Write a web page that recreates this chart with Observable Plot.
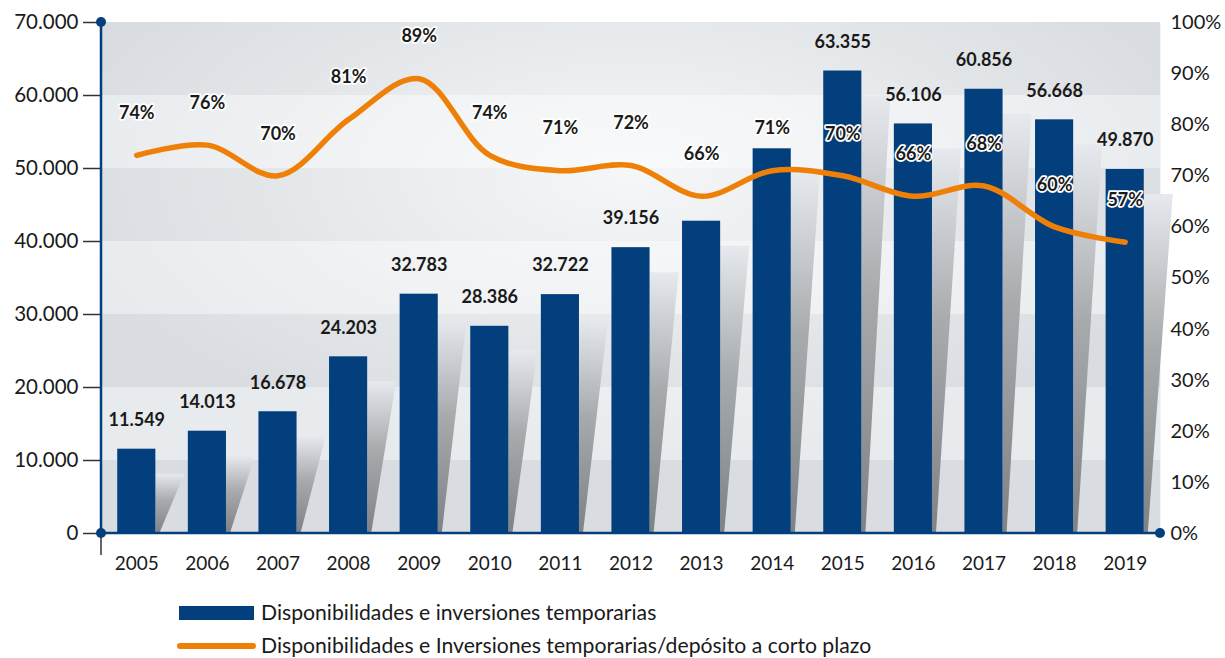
<!DOCTYPE html>
<html>
<head>
<meta charset="utf-8">
<script src="https://cdn.jsdelivr.net/npm/d3@7"></script>
<script src="https://cdn.jsdelivr.net/npm/@observablehq/plot@0.6"></script>
<style>
  html, body { margin: 0; padding: 0; background: #ffffff; }
  #wrap { position: relative; width: 1225px; height: 658px; font-family: Lato, "Noto Sans", sans-serif; color: #1a1a1a; overflow: hidden; }
  #chart { position: absolute; left: 0; top: 0; }
  .sw-bar { position: absolute; left: 179px; width: 75px; height: 14px; background: #023f7c; }
  .sw-line { position: absolute; left: 177px; width: 79px; height: 6px; border-radius: 3px; background: #ef8007; }
  .lg-text { position: absolute; left: 261px; font-size: 21.2px; line-height: 20px; white-space: nowrap; color: #1a1a1a; }
</style>
</head>
<body>
<div id="wrap">
  <div id="chart"></div>
  <div class="sw-bar" style="top:606px"></div>
  <div class="lg-text" id="lg1" style="top:602px"></div>
  <div class="sw-line" style="top:643px"></div>
  <div class="lg-text" id="lg2" style="top:635px"></div>
</div>
<script>
// ---- data ----
const years = [2005, 2006, 2007, 2008, 2009, 2010, 2011, 2012, 2013, 2014, 2015, 2016, 2017, 2018, 2019];
const amounts = [11549, 14013, 16678, 24203, 32783, 28386, 32722, 39156, 42780, 52700, 63355, 56106, 60856, 56668, 49870];
const amountShown = [true, true, true, true, true, true, true, true, false, false, true, true, true, true, true];
const ratios = [74, 76, 70, 81, 89, 74, 71, 72, 66, 71, 70, 66, 68, 60, 57];
const leftTicks = [0, 10000, 20000, 30000, 40000, 50000, 60000, 70000];
const rightTicksPct = [0, 10, 20, 30, 40, 50, 60, 70, 80, 90, 100];
const bandStarts = [0, 20000, 40000, 60000];
const seriesNames = ["Disponibilidades e inversiones temporarias", "Disponibilidades e Inversiones temporarias/depósito a corto plazo"];

// ---- setup ----
const NAVY = "#023f7c", ORANGE = "#ef8007", INK = "#1a1a1a";
const PCT = 700; // 100% on right axis == 70.000 on left axis
const fmt = d3.formatLocale({decimal: ",", thousands: ".", grouping: [3], currency: ["", ""]}).format(",d");
const rows = years.map((y, i) => ({year: String(y), amount: amounts[i], shown: amountShown[i], ratio: ratios[i], ry: ratios[i] * PCT}));

document.getElementById("lg1").textContent = seriesNames[0];
document.getElementById("lg2").textContent = seriesNames[1];

function glowMark(index, scales, values, dims) {
  const g = d3.create("svg:g");
  const defs = g.append("defs");
  const rg = defs.append("radialGradient").attr("id", "glow").attr("cx", "0.5").attr("cy", "0.3").attr("r", "0.55");
  rg.append("stop").attr("offset", "0").attr("stop-color", "#ffffff").attr("stop-opacity", 0.75);
  rg.append("stop").attr("offset", "0.6").attr("stop-color", "#ffffff").attr("stop-opacity", 0.3);
  rg.append("stop").attr("offset", "1").attr("stop-color", "#ffffff").attr("stop-opacity", 0);
  const lg = defs.append("linearGradient").attr("id", "shade").attr("x1", 0).attr("y1", 0).attr("x2", 0).attr("y2", 1);
  lg.append("stop").attr("offset", "0").attr("stop-color", "#e6eaee");
  lg.append("stop").attr("offset", "0.45").attr("stop-color", "#a7abae");
  lg.append("stop").attr("offset", "1").attr("stop-color", "#7e8285");
  const x0 = dims.marginLeft, x1 = dims.width - dims.marginRight;
  const y0 = dims.marginTop, y1 = dims.height - dims.marginBottom;
  g.append("rect").attr("x", x0).attr("y", y0).attr("width", x1 - x0).attr("height", y1 - y0).attr("fill", "url(#glow)");
  return g.node();
}

function shadowMark(index, scales, values, dims) {
  const g = d3.create("svg:g");
  const x = scales.x, y = scales.y;
  const bw = (x && typeof x.bandwidth === "function") ? x.bandwidth() : 38;
  const base = y(0);
  rows.forEach(d => {
    const right = x(d.year) + bw;
    const top = y(d.amount) + 25;
    const pts = [[right, top], [right + 29, top], [right + 4, base], [right, base]];
    g.append("path").attr("d", "M" + pts.map(p => p.join(",")).join("L") + "Z").attr("fill", "url(#shade)");
  });
  return g.node();
}

function decoMark(index, scales, values, dims) {
  const g = d3.create("svg:g");
  const x0 = dims.marginLeft, x1 = dims.width - dims.marginRight;
  const yb = scales.y(0), yt = scales.y(70000);
  g.append("line").attr("x1", x0).attr("x2", x0).attr("y1", yb).attr("y2", yb + 22).attr("stroke", "#333").attr("stroke-width", 1.5);
  g.append("line").attr("x1", x0).attr("x2", x0).attr("y1", yt).attr("y2", yb).attr("stroke", NAVY).attr("stroke-width", 2.5);
  g.append("line").attr("x1", x0).attr("x2", x1).attr("y1", yb).attr("y2", yb).attr("stroke", NAVY).attr("stroke-width", 2.5);
  [[x0, yt], [x0, yb], [x1, yb]].forEach(([cx, cy]) => g.append("circle").attr("cx", cx).attr("cy", cy).attr("r", 5).attr("fill", NAVY));
  return g.node();
}

const chart = Plot.plot({
  width: 1225,
  height: 590,
  marginLeft: 101,
  marginRight: 65,
  marginTop: 22,
  marginBottom: 57,
  style: {fontFamily: "Lato, 'Noto Sans', sans-serif", color: INK, background: "transparent"},
  x: {type: "band", domain: years.map(String), paddingInner: 0.46, paddingOuter: 0.23, round: false, axis: null},
  y: {domain: [0, 70000], axis: null},
  marks: [
    Plot.frame({fill: "#e8ebee", stroke: null}),
    Plot.rectY(bandStarts, {y1: d => d, y2: d => d + 10000, fill: "#d9dde1"}),
    glowMark,
    shadowMark,
    Plot.barY(rows, {x: "year", y: "amount", fill: NAVY}),
    Plot.line(rows, {x: "year", y: "ry", curve: "catmull-rom", stroke: ORANGE, strokeWidth: 5.5, strokeLinecap: "round"}),
    Plot.text(rows.filter(d => d.shown), {x: "year", y: "amount", text: d => fmt(d.amount), dy: -29, fontSize: 18, fontWeight: "bold", fill: INK}),
    Plot.text(rows, {x: "year", y: "ry", text: d => d.ratio + "%", dy: -42, fontSize: 18, fontWeight: "bold", fill: INK, stroke: "white", strokeWidth: 3.5, paintOrder: "stroke"}),
    Plot.axisY({anchor: "left", ticks: leftTicks, tickFormat: fmt, tickSize: 18, tickPadding: 5, fontSize: 20.5, stroke: "#333", strokeWidth: 1.5, fill: INK, label: null}),
    Plot.axisY({anchor: "right", ticks: rightTicksPct.map(p => p * PCT), tickFormat: d => Math.round(d / PCT) + "%", tickSize: 0, tickPadding: 10, fontSize: 20, fill: INK, label: null}),
    Plot.axisX({anchor: "bottom", tickSize: 0, tickPadding: 23, fontSize: 19, fill: INK, label: null}),
    decoMark
  ]
});
document.getElementById("chart").appendChild(chart);
</script>
</body>
</html>
